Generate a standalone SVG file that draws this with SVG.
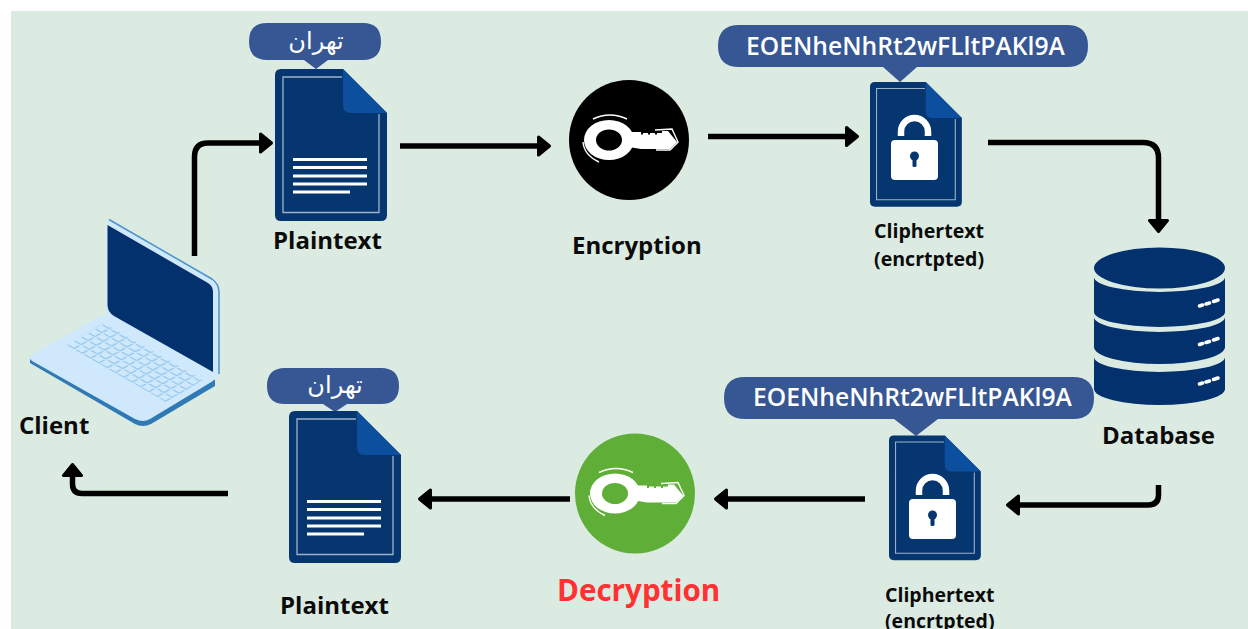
<svg xmlns="http://www.w3.org/2000/svg" width="1248" height="629" viewBox="0 0 1248 629">
<style>
.lbl{font-family:"Open Sans","Noto Sans",sans-serif;font-weight:700;fill:#0b0b0b}
.pill{fill:#365694}
.ptxt{font-family:"Open Sans","Noto Sans",sans-serif;font-weight:600;font-size:24.700px;fill:#fff}
.ar{font-family:"DejaVu Sans","Noto Sans",sans-serif;font-size:24px;fill:#fff}
.conn{fill:none;stroke:#000;stroke-width:5.500;marker-end:url(#head)}
.ln{stroke:#fff;stroke-width:3}
.dash{stroke:#fff;stroke-width:3.600;stroke-linecap:round}
.tier{fill:#03316d}
</style>
<defs>
<marker id="head" viewBox="0 -12 16 24" markerWidth="16" markerHeight="24" refX="0" refY="0" orient="auto" markerUnits="userSpaceOnUse">
<path d="M1.500 -9L12.500 0L1.500 9Z" fill="#000" stroke="#000" stroke-width="3" stroke-linejoin="round"/>
</marker>
<g id="docShape">
<path d="M6 0H68L112 44V146Q112 152 106 152H6Q0 152 0 146V6Q0 0 6 0Z" fill="#05366f"/>
<path d="M68 0L112 44H76Q68 44 68 36Z" fill="#0d4f9f"/>
<path d="M67 8H8V143.500H104V45" fill="none" stroke="#9fb3c8" stroke-width="1.300"/>
</g>
<g id="lines">
<path class="ln" d="M18 90.500H92M18 98.500H92M18 107H92M18 115H92M18 123H75"/>
</g>
<g id="lock">
<path d="M31 54V49.500A13.500 13.500 0 0 1 58 49.500V54" fill="none" stroke="#fff" stroke-width="6.500"/>
<rect x="21" y="58" width="47" height="40" rx="4" fill="#fff"/>
<circle cx="44.500" cy="74" r="4.500" fill="#05366f"/>
<rect x="42.500" y="74" width="4" height="11" rx="1.500" fill="#05366f"/>
</g>
<g id="key">
<path fill-rule="evenodd" fill="#fff" d="M-45 0A25 20 0 1 0 5 0A25 20 0 1 0 -45 0ZM-33 0A13 10.500 0 1 1 -7 0A13 10.500 0 1 1 -33 0Z"/>
<path fill="#fff" d="M0 -8H12V-5.500H14V-7H19V-5.500H21V-7H26V-5.500H28V-7H33V-9H39L48 2L41 9H12L0 7Z"/>
<path fill="none" stroke="#fff" stroke-width="1.400" d="M-36 -21Q-19 -29 -2 -21M-46 2Q-45 15 -30 22M26 -10L43 -11L49 2L41 10L27 10"/>
</g>
<pattern id="keys" patternUnits="userSpaceOnUse" width="1" height="1" patternTransform="matrix(8.300 4.800 7 -4 66 345)">
<path d="M.1 .14H.86V.88" fill="none" stroke="#92c6ec" stroke-width=".16"/>
</pattern>
<g id="bars">
<path class="dash" d="M1199.500 306L1202.500 305M1206 304L1209.500 303M1213.500 301.500L1218 300"/>
</g>
</defs>

<rect x="11" y="11" width="1237" height="618" fill="#dcebe2"/>

<g id="connectors">
<path class="conn" d="M194.500 256V157Q194.500 143 208 143H259"/>
<path class="conn" d="M400 146H537"/>
<path class="conn" d="M708 136.500H845"/>
<path class="conn" d="M988 142.500H1143Q1158.500 142.500 1158.500 158V219"/>
<path class="conn" d="M1158.500 485V495Q1158.500 505 1148 505H1020"/>
<path class="conn" d="M865 499H728"/>
<path class="conn" d="M570 499H432"/>
<path class="conn" d="M228 493.500H82Q72.500 493.500 72.500 484V477"/>
</g>

<g id="client">
<path d="M107 222Q107 219 110 220L212 279Q219 284 219 292V372Q219 376 216 378L110 318Q106 315 106 308Z" fill="#cfe8fb"/>
<path d="M109 219.500L212 279Q219 284 219 292V374" fill="none" stroke="#4d94cb" stroke-width="1.500"/>
<path d="M107.500 225L208 283Q213 286 213 292V372L114 316Q107.500 312 107.500 305Z" fill="#03316d"/>
<path d="M30 363L30 359L100 320L215 380L215 386L151 424Q143 428 135 424Z" fill="#2f7ab5"/>
<path d="M31.500 355L96 318Q103 314 110 317L211 375Q216 378 213 381L150 419Q143 423 135 419L32 361Q28 358 31.500 355Z" fill="#cfe8fb"/>
<path d="M66 345L103 323L203 380L166 402Z" fill="url(#keys)"/>
<text class="lbl" x="19" y="434" font-size="24">Client</text>
</g>

<g id="plaintext-top">
<path class="pill" d="M267 23H363Q381 23 381 41.500Q381 60 363 60H328L316 69L304 60H267Q249 60 249 41.500Q249 23 267 23Z"/>
<text class="ar" x="316" y="49" text-anchor="middle" direction="rtl">تهران</text>
<use href="#docShape" x="275" y="69"/>
<use href="#lines" x="275" y="69"/>
<text class="lbl" x="273" y="249" font-size="24">Plaintext</text>
</g>

<g id="encryption">
<circle cx="629" cy="140" r="60" fill="#000"/>
<use href="#key" x="629" y="140"/>
<text class="lbl" x="572" y="254" font-size="24">Encryption</text>
</g>

<g id="ciphertext-top">
<path class="pill" d="M739 25H1067Q1088 25 1088 46Q1088 67 1067 67H917L900 82L883 67H739Q718 67 718 46Q718 25 739 25Z"/>
<text class="ptxt" x="746" y="55">EOENheNhRt2wFLltPAKl9A</text>
<use href="#docShape" transform="translate(870 82) scale(.82)"/>
<use href="#lock" x="870" y="82"/>
<text class="lbl" x="874" y="238" font-size="19.600">Cliphertext</text>
<text class="lbl" x="874" y="266" font-size="19.600">(encrtpted)</text>
</g>

<g id="database">
<ellipse class="tier" cx="1159.500" cy="268" rx="65.500" ry="20.500"/>
<path class="tier" d="M1094 277A65.500 15 0 0 0 1225 277V312A65.500 15 0 0 1 1094 312Z"/>
<path class="tier" d="M1094 317A65.500 15 0 0 0 1225 317V347A65.500 17 0 0 1 1094 347Z"/>
<path class="tier" d="M1094 357A65.500 15 0 0 0 1225 357V389A65.500 16 0 0 1 1094 389Z"/>
<use href="#bars"/>
<use href="#bars" y="38.500"/>
<use href="#bars" y="78"/>
<text class="lbl" x="1102" y="444" font-size="24">Database</text>
</g>

<g id="ciphertext-bottom">
<path class="pill" d="M745 377H1073Q1094 377 1094 398Q1094 419 1073 419H938L916 436L894 419H745Q724 419 724 398Q724 377 745 377Z"/>
<text class="ptxt" x="753" y="406">EOENheNhRt2wFLltPAKl9A</text>
<use href="#docShape" transform="translate(889 435.500) scale(.82)"/>
<use href="#lock" x="888" y="441"/>
<text class="lbl" x="885" y="602" font-size="19.500">Cliphertext</text>
<text class="lbl" x="885" y="628" font-size="19.500">(encrtpted)</text>
</g>

<g id="decryption">
<circle cx="635" cy="493.500" r="60" fill="#5fae37"/>
<use href="#key" x="635" y="493.500"/>
<text class="lbl" x="557" y="601" font-size="29.600" style="fill:#ff3131">Decryption</text>
</g>

<g id="plaintext-bottom">
<path class="pill" d="M285 368H381Q399 368 399 386Q399 404 381 404H347L335 412L323 404H285Q267 404 267 386Q267 368 285 368Z"/>
<text class="ar" x="335" y="393" text-anchor="middle" direction="rtl">تهران</text>
<use href="#docShape" x="289" y="411"/>
<use href="#lines" x="289" y="411"/>
<text class="lbl" x="280" y="614" font-size="24">Plaintext</text>
</g>
</svg>
